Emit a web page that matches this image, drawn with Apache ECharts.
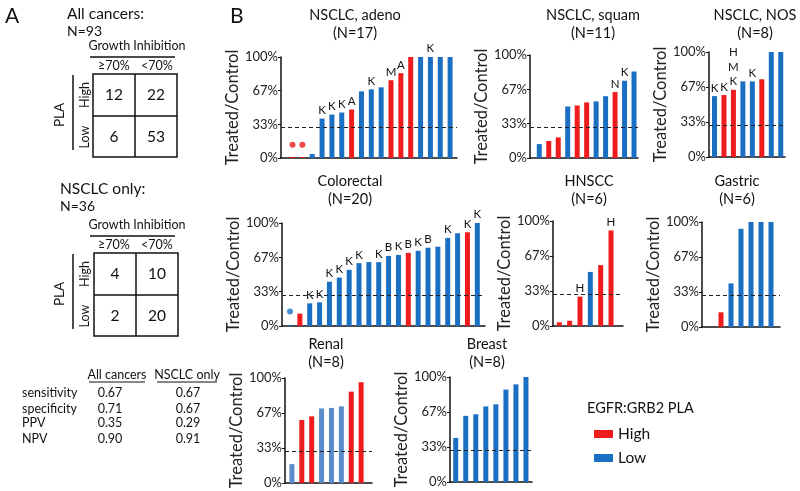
<!DOCTYPE html>
<html><head><meta charset="utf-8">
<script src="https://cdn.jsdelivr.net/npm/echarts@6/dist/echarts.min.js"></script>
<style>html,body{margin:0;padding:0;background:#fff}#c{width:800px;height:491px}</style>
</head><body><div id="c"></div>
<script>
// ---------- DATA ----------
const panelNames = ['NSCLC, adeno','NSCLC, squam','NSCLC, NOS','Colorectal','HNSCC','Gastric','Renal','Breast'];
const adenoVals = [1, 1, 4, 39, 43, 45, 48, 66, 68, 70, 77, 84, 100, 100, 100, 100, 100];
const adenoPLA  = 'HHLLLLHLLLHHHLLLL';
const adenoMut  = ['','','','K','K','K','A','','K','','M','A','','','K','',''];
const adenoDots = [13, 13];
const squamVals = [13.5, 16.5, 20, 50, 51, 54, 55, 60, 64, 75, 84];
const squamPLA  = 'LHHLHHLLHLL';
const squamMut  = ['','','','','','','','','N','K',''];
const nosVals = [58, 59, 64, 72, 72, 74, 100, 100];
const nosPLA  = 'LHHLLHLL';
const nosMut  = ['K','K','H\nM\nK','','K','','',''];
const crcVals = [1, 12, 22, 23, 43, 47, 54.5, 61, 62, 62, 68, 69, 71, 73, 76, 77, 85.5, 90, 91, 100];
const crcPLA  = 'LHLLLLLLLLLLHLLLLLHL';
const crcMut  = ['','','K','K','K','K','K','K','','K','B','K','B','K','B','','K','','K','K'];
const crcDots = [14];
const hnVals = [3.5, 5, 28, 51.5, 58, 91];
const hnPLA  = 'HHHLHH';
const hnMut  = ['','','H','','','H'];
const gastricVals = [14, 41.5, 93.5, 100, 100, 100];
const gastricPLA  = 'HLLLLL';
const renalVals = [18, 60, 63.5, 71, 71.5, 73, 87, 96];
const renalPLA  = 'LHHLLLHH';
const breastVals = [42, 63, 64.5, 72, 74, 88, 93, 100];
const breastPLA  = 'LLLLLLLL';
const threshold = 30;
const yTickLabels = ['0%','33%','67%','100%'];

const allTable = [[12,22],[6,53]];
const nsclcTable = [[4,10],[2,20]];
const statNames = ['sensitivity','specificity','PPV','NPV'];
const statAll = ['0.67','0.71','0.35','0.90'];
const statNsclc = ['0.67','0.67','0.29','0.91'];

// ---------- LAYOUT ----------
const RED = '#ee1c1c', BLUE = '#1b6fc3', LIGHTBLUE = '#5a8ccc';
const FONT = 'Lato';
const panels = [
  {vals: adenoVals, pla: adenoPLA, mut: adenoMut, dots: adenoDots, box:[281,57,457,158], xr:[-1.17,16.7], tx:355, ty:15},
  {vals: squamVals, pla: squamPLA, mut: squamMut, box:[530,55,638,158], xr:[-0.98,10.42], tx:593, ty:15},
  {vals: nosVals, pla: nosPLA, mut: nosMut, box:[709,52,785,157], xr:[-0.58,7.45], tx:755, ty:15},
  {vals: crcVals, pla: crcPLA, mut: crcMut, dots: crcDots, box:[282,223,485,326], xr:[-0.81,19.78], tx:350, ty:181},
  {vals: hnVals, pla: hnPLA, mut: hnMut, box:[553,221,623,326], xr:[-0.61,6.16], tx:589, ty:181},
  {vals: gastricVals, pla: gastricPLA, box:[702,222,780,327], xr:[-1.9,5.9], tx:737, ty:181},
  {vals: renalVals, pla: renalPLA, lowColor: LIGHTBLUE, box:[285,378,372,483], xr:[-0.7,8.1], tx:326, ty:344},
  {vals: breastVals, pla: breastPLA, box:[450,377,532,482], xr:[-0.57,7.6], tx:487, ty:344}
];

const grid = [], xAxis = [], yAxis = [], series = [], graphic = [];
function txt(x, y, text, size, opts) {
  opts = opts || {};
  graphic.push({type:'text', x:x, y:y, rotation: opts.rot || 0, silent:true,
    style:{text:text, fill:'#111', fontSize:size, fontFamily:FONT, fontWeight: opts.w || 'normal',
      align: opts.align || 'center', verticalAlign:'middle'}});
}
function line(x1,y1,x2,y2,w){ graphic.push({type:'line', silent:true, shape:{x1,y1,x2,y2}, style:{stroke:'#111', lineWidth:w||1.5}}); }

panels.forEach((p, k) => {
  const [l,t,r,b] = p.box;
  grid.push({left:l, top:t, width:r-l, height:b-t});
  xAxis.push({type:'value', gridIndex:k, min:p.xr[0], max:p.xr[1], axisLine:{show:true, lineStyle:{color:'#111', width:1.5}},
    axisTick:{show:false}, axisLabel:{show:false}, splitLine:{show:false}});
  yAxis.push({type:'value', gridIndex:k, min:0, max:100, interval:100/3,
    axisLine:{show:true, onZero:false, lineStyle:{color:'#111', width:1.5}},
    axisTick:{show:true, length:3, lineStyle:{color:'#111'}},
    axisLabel:{fontSize:13, fontFamily:FONT, color:'#222', margin:3, formatter: v => yTickLabels[Math.round(v/(100/3))]},
    splitLine:{show:false},
    name:'Treated/Control', nameLocation:'middle', nameGap:36, nameTextStyle:{fontSize:16.5, fontFamily:FONT, color:'#222'}});
  const hi = [], lo = [];
  p.vals.forEach((v,i) => {
    const item = {value:[i,v], mut: p.mut ? p.mut[i] : ''};
    if (p.pla[i] === 'H') hi.push(item);
    else { if (p.lowColor) item.itemStyle = {color:p.lowColor}; lo.push(item); }
  });
  const lbl = {show:true, position:'top', distance:1, fontSize:11.5, lineHeight:14.5, fontFamily:FONT, color:'#111', formatter: q => q.data.mut || ''};
  series.push({type:'bar', name:'High', xAxisIndex:k, yAxisIndex:k, barWidth:5, barGap:'-100%', itemStyle:{color:RED}, label:lbl, data:hi});
  series.push({type:'bar', name:'Low', xAxisIndex:k, yAxisIndex:k, barWidth:5, barGap:'-100%', itemStyle:{color:BLUE}, label:lbl, data:lo,
    markLine:{silent:true, symbol:['none','none'], label:{show:false}, lineStyle:{type:[4,3], color:'#222', width:1}, data:[{yAxis:threshold}]}});
  if (p.dots) {
    series.push({type:'scatter', name:'dots'+k, xAxisIndex:k, yAxisIndex:k, symbolSize:6,
      data: p.dots.map((d,i)=>({value:[i,d], itemStyle:{color: p.pla[i]==='H'?RED:BLUE}}))});
  }
  txt(p.tx, p.ty, panelNames[k], 14.5);
  txt(p.tx, p.ty+18, '(N=' + p.vals.length + ')', 14.5);
});

// Panel letters
txt(5, 16, 'A', 21, {align:'left'});
txt(230, 16, 'B', 21, {align:'left'});

// Contingency tables
function table(ox, oy, title, n, tbl, bx, by) {
  txt(ox, oy, title, 15.5, {align:'left'});
  txt(ox, oy+17, n, 14, {align:'left'});
  txt(137, by-28, 'Growth Inhibition', 12.5);
  line(90, by-17, 175, by-17, 1.5);
  txt(114, by-8, '≥70%', 12.5);
  txt(157, by-8, '<70%', 12.5);
  graphic.push({type:'rect', silent:true, shape:{x:bx, y:by, width:84, height:83}, style:{fill:'none', stroke:'#111', lineWidth:1.5}});
  line(bx+42, by, bx+42, by+83, 1.5);
  line(bx, by+42, bx+84, by+42, 1.5);
  txt(bx+21, by+21, String(tbl[0][0]), 15.5);
  txt(bx+63, by+21, String(tbl[0][1]), 15.5);
  txt(bx+21, by+63, String(tbl[1][0]), 15.5);
  txt(bx+63, by+63, String(tbl[1][1]), 15.5);
  txt(85, by+21, 'High', 12.5, {rot:Math.PI/2});
  txt(85, by+63, 'Low', 12.5, {rot:Math.PI/2});
  txt(60, by+41, 'PLA', 13.5, {rot:Math.PI/2});
  line(73, by+1, 73, by+76, 1.5);
}
table(67, 14, 'All cancers:', 'N=93', allTable, 93, 74);
table(60, 189, 'NSCLC only:', 'N=36', nsclcTable, 94, 253);

// Stats table
txt(117, 375, 'All cancers', 12.5);
txt(187, 375, 'NSCLC only', 12.5);
line(89, 382, 145, 382, 1);
line(157, 382, 217, 382, 1);
const rowY = [393, 409, 423, 439];
statNames.forEach((s,i) => {
  txt(22, rowY[i], s, 12.5, {align:'left'});
  txt(110, rowY[i], statAll[i], 12.5);
  txt(188, rowY[i], statNsclc[i], 12.5);
});

// Legend title
txt(587, 408, 'EGFR:GRB2 PLA', 14.5, {align:'left'});

const chart = echarts.init(document.getElementById('c'), null, {renderer:'canvas'});
chart.setOption({
  animation:false,
  grid, xAxis, yAxis, series, graphic,
  legend:{data:['High','Low'], orient:'vertical', left:589, top:421, icon:'rect', itemWidth:19, itemHeight:8, itemGap:8,
    textStyle:{fontSize:15.5, fontFamily:FONT, color:'#111'}, selectedMode:false}
});
</script></body></html>
